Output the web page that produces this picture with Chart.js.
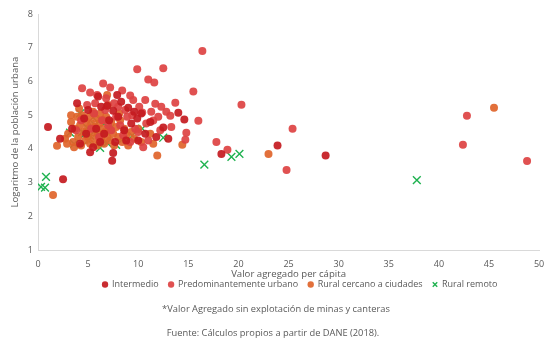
<!DOCTYPE html>
<html lang="es">
<head>
<meta charset="utf-8">
<title>Valor agregado per cápita y población urbana</title>
<script src="https://cdn.jsdelivr.net/npm/chart.js@4/dist/chart.umd.min.js"></script>
<style>
    html, body { margin: 0; padding: 0; background: #fff; }
    #wrap { width: 546px; height: 342px; position: relative; }
    #wrap canvas { position: absolute; left: 0; top: 0; }
    .nota {
        position: absolute;
        left: 0;
        width: 546px;
        text-align: center;
        font-family: 'Open Sans', 'DejaVu Sans', sans-serif;
        font-size: 9.3px;
        line-height: 12px;
        color: #595959;
        white-space: nowrap;
    }
</style>
</head>
<body>
<div id="wrap">
    <canvas id="scatter" width="546" height="342"></canvas>
    <div class="nota" style="top: 303px; padding-left: 6px; box-sizing: border-box;">*Valor Agregado sin explotación de minas y canteras</div>
    <div class="nota" style="top: 327px;">Fuente: Cálculos propios a partir de DANE (2018).</div>
</div>
<script>
// [valor agregado per cápita, logaritmo de la población urbana]
const intermedio = [
    [1.0,4.65],[2.5,3.1],[2.2,4.3],[3.9,5.35],[4.2,4.15],[4.6,4.9],[5.2,3.9],[5.5,4.05],
    [5.8,4.6],[6.0,5.55],[6.3,5.25],[6.6,4.45],[6.9,5.28],[7.1,4.85],[7.4,3.65],[7.5,3.88],
    [7.5,5.13],[7.7,4.2],[8.0,4.95],[8.3,5.4],[8.6,4.55],[9.0,5.22],[9.3,4.75],[9.6,5.1],
    [9.9,4.9],[10.3,5.05],[10.7,4.45],[11.2,4.8],[11.8,4.35],[12.5,4.63],[13.0,4.3],[14.0,5.07],
    [14.6,4.87],[18.3,3.85],[23.9,4.1],[28.7,3.8],[5.0,5.15],[4.8,4.45],[6.2,4.2],[3.4,4.6],
    [8.8,4.25],[7.9,5.6],[10.0,4.25]
];
const predominantementeUrbano = [
    [16.4,6.9],[9.9,6.36],[12.5,6.39],[11.0,6.06],[11.6,5.97],[15.5,5.7],[20.3,5.31],[25.4,4.6],
    [17.8,4.2],[18.9,3.97],[24.8,3.37],[13.7,5.37],[16.0,4.83],[13.2,4.98],[14.8,4.48],[14.7,4.27],
    [42.8,4.98],[42.4,4.12],[48.8,3.64],
    [4.4,5.8],[5.2,5.67],[5.9,5.6],[6.5,5.94],[7.2,5.82],[8.4,5.73],[9.2,5.58],[10.4,5.08],
    [11.7,5.34],[11.5,4.84],[6.8,5.5],[7.6,5.35],[8.7,5.15],[9.5,5.45],[10.1,5.25],[11.3,5.1],
    [12.0,4.95],[12.3,5.25],[10.8,4.75],[9.7,4.6],[8.9,4.95],[8.2,4.7],[7.3,4.55],[6.4,4.85],
    [5.6,5.05],[4.9,5.3],[4.3,4.85],[3.8,4.55],[5.3,4.6],[6.1,4.35],[7.0,4.7],[7.8,4.95],
    [8.5,4.4],[9.2,4.2],[10.0,4.5],[10.5,4.05],[11.0,4.25],[12.2,4.55],[12.8,5.1],[13.3,4.65],
    [6.7,5.15],[5.7,5.35],[8.0,5.25],[9.4,5.0],[10.7,5.45]
];
const ruralCercano = [
    [1.5,2.63],[1.9,4.09],[45.5,5.22],[23.0,3.85],[11.9,3.8],[14.4,4.12],[11.5,4.15],[11.2,4.45],
    [2.7,4.3],[3.3,5.0],
    [3.0,4.45],[3.3,4.8],[3.5,4.2],[3.7,4.6],[3.9,4.95],[4.0,4.35],[4.2,4.7],[4.3,4.1],
    [4.4,5.0],[4.5,4.5],[4.7,4.25],[4.8,4.8],[4.9,4.6],[5.0,4.35],[5.1,4.95],[5.2,4.15],
    [5.3,4.75],[5.4,4.5],[5.5,5.1],[5.6,4.3],[5.7,4.65],[5.8,4.9],[5.9,4.1],[6.0,4.45],
    [6.1,4.75],[6.2,5.05],[6.3,4.3],[6.4,4.6],[6.5,4.85],[6.6,4.15],[6.7,4.5],[6.8,4.95],
    [6.9,4.35],[7.0,5.3],[7.1,4.6],[7.2,4.25],[7.3,4.8],[7.5,4.45],[7.6,4.1],[7.8,4.65],
    [8.0,4.35],[8.2,4.85],[8.4,4.2],[8.6,4.6],[8.8,4.4],[9.0,4.1],[9.3,4.5],[9.6,4.3],
    [10.0,4.6],[10.3,4.2],[4.1,5.2],[3.6,4.05],[2.9,4.15],[6.9,5.6],[8.1,5.05]
];
const ruralRemoto = [
    [0.3,2.87],[0.7,2.85],[0.8,3.17],[16.6,3.53],[19.3,3.76],[20.1,3.85],[37.8,3.07],
    [4.2,5.05],[3.2,4.48],[3.6,4.15],[5.5,4.93],[6.2,4.87],[4.9,4.63],[5.9,4.48],[6.9,4.48],
    [7.2,4.6],[6.4,4.27],[6.2,4.03],[6.9,4.18],[7.8,4.12],[8.5,4.3],[9.4,4.39],[10.4,4.6],
    [12.5,4.33],[4.7,4.45],[5.2,4.39],[5.0,4.25],[6.6,4.75],[4.4,4.5],[5.7,4.7]
];

const xTicks = [0, 5, 10, 15, 20, 25, 30, 35, 40, 45, 50];
const yTicks = [1, 2, 3, 4, 5, 6, 7, 8];

const toPoints = rows => rows.map(r => ({ x: r[0], y: r[1] }));

const gray = "#595959";
const fontFamily = "'Open Sans', 'DejaVu Sans', sans-serif";

Chart.defaults.font.family = fontFamily;
Chart.defaults.font.size = 9;
Chart.defaults.color = gray;

// moves the legend box after layout without touching the plot area
const legendShift = {
    id: "legendShift",
    afterLayout(chart, args, opts) {
        const legend = chart.legend;
        if (!legend) return;
        const dx = opts.dx || 0;
        const dy = opts.dy || 0;
        legend.left += dx;
        legend.right += dx;
        legend.top += dy;
        legend.bottom += dy;
    }
};

new Chart(document.getElementById("scatter"), {
    type: "scatter",
    data: {
        datasets: [
            {
                label: "Intermedio",
                data: toPoints(intermedio),
                backgroundColor: "rgba(196, 26, 32, 0.92)",
                borderWidth: 0,
                pointRadius: 4,
                pointHoverRadius: 4
            },
            {
                label: "Predominantemente urbano",
                data: toPoints(predominantementeUrbano),
                backgroundColor: "rgba(221, 66, 66, 0.92)",
                borderWidth: 0,
                pointRadius: 4,
                pointHoverRadius: 4
            },
            {
                label: "Rural cercano a ciudades",
                data: toPoints(ruralCercano),
                backgroundColor: "rgba(224, 100, 42, 0.92)",
                borderWidth: 0,
                pointRadius: 4,
                pointHoverRadius: 4
            },
            {
                label: "Rural remoto",
                data: toPoints(ruralRemoto),
                pointStyle: "crossRot",
                borderColor: "#1fb250",
                backgroundColor: "#1fb250",
                borderWidth: 1.4,
                pointRadius: 5.5,
                pointHoverRadius: 5.5
            }
        ]
    },
    options: {
        responsive: false,
        animation: false,
        layout: {
            padding: { left: 10, right: 0, top: 14, bottom: 33 }
        },
        scales: {
            x: {
                type: "linear",
                min: 0,
                max: 50,
                afterBuildTicks: axis => { axis.ticks = xTicks.map(v => ({ value: v })); },
                afterFit: axis => {
                    axis.height = 30;
                    axis.paddingRight = 6;
                },
                grid: { display: false, drawTicks: false },
                border: { color: "#d9d9d9", width: 1 },
                ticks: { padding: 9, color: gray },
                title: {
                    display: true,
                    text: "Valor agregado per cápita",
                    color: gray,
                    font: { size: 9.6 },
                    padding: { top: 0, bottom: 0 }
                }
            },
            y: {
                type: "linear",
                min: 1,
                max: 8,
                afterBuildTicks: axis => { axis.ticks = yTicks.map(v => ({ value: v })); },
                afterFit: axis => { axis.width = 28; },
                grid: { display: false, drawTicks: false },
                border: { color: "#d9d9d9", width: 1 },
                ticks: { padding: 5, color: gray },
                title: {
                    display: true,
                    text: "Logaritmo de la población urbana",
                    color: gray,
                    font: { size: 9.6 },
                    padding: { top: 0, bottom: 0 }
                }
            }
        },
        plugins: {
            tooltip: { enabled: false },
            legendShift: { dx: 22, dy: -10 },
            legend: {
                position: "bottom",
                labels: {
                    usePointStyle: true,
                    boxWidth: 5,
                    boxHeight: 4.5,
                    padding: 10,
                    color: gray,
                    font: { size: 9 }
                }
            }
        }
    },
    plugins: [legendShift]
});
</script>
</body>
</html>
